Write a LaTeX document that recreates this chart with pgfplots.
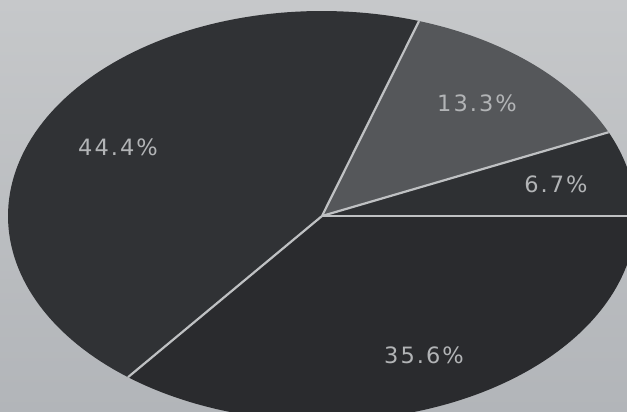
\documentclass[border=0pt]{standalone}
\usepackage{pgfplots}
\pgfplotsset{compat=1.18}
\usepackage{fontspec}
\setmainfont{DejaVu Sans}
\newfontfamily\lblfont[LetterSpace=9]{DejaVu Sans}
\definecolor{bgtop}{HTML}{C6C8CA}
\definecolor{bgbot}{HTML}{B2B5B9}
\definecolor{darkA}{HTML}{2E3033}
\definecolor{darkB}{HTML}{55575A}
\definecolor{darkC}{HTML}{303235}
\definecolor{darkD}{HTML}{2A2B2E}
\definecolor{sep}{HTML}{BFC1C3}
\definecolor{lbl}{HTML}{B2B4B6}
% shares (percent), counter-clockwise from 0 degrees
\def\pA{6.7}\def\pB{13.3}\def\pC{44.4}\def\pD{35.6}
\def\cx{322}\def\cy{196}\def\rx{314}\def\ry{205}
\begin{document}
\begin{tikzpicture}
\pgfmathsetmacro{\aA}{\pA*3.6}
\pgfmathsetmacro{\aB}{\aA+\pB*3.6}
\pgfmathsetmacro{\aC}{\aB+\pC*3.6}
\pgfmathsetmacro{\aD}{\aC+\pD*3.6}
\begin{axis}[
  scale only axis, width=627pt, height=412pt,
  xmin=0, xmax=627, ymin=0, ymax=412,
  hide axis, clip=true,
  axis background/.style={top color=bgtop, bottom color=bgbot},
]
\addplot[fill=darkA, draw=none, domain=0:\aA, samples=40, variable=\t]
  ({\cx+\rx*cos(t)}, {\cy+\ry*sin(t)}) -- (axis cs:\cx,\cy) -- cycle;
\addplot[fill=darkB, draw=none, domain=\aA:\aB, samples=40, variable=\t]
  ({\cx+\rx*cos(t)}, {\cy+\ry*sin(t)}) -- (axis cs:\cx,\cy) -- cycle;
\addplot[fill=darkC, draw=none, domain=\aB:\aC, samples=100, variable=\t]
  ({\cx+\rx*cos(t)}, {\cy+\ry*sin(t)}) -- (axis cs:\cx,\cy) -- cycle;
\addplot[fill=darkD, draw=none, domain=\aC:\aD, samples=100, variable=\t]
  ({\cx+\rx*cos(t)}, {\cy+\ry*sin(t)}) -- (axis cs:\cx,\cy) -- cycle;
% separators
\foreach \ang in {0,\aA,\aB,\aC}{
  \edef\tmp{\noexpand\addplot[draw=sep, line width=2.2pt, domain=0:1, samples=2]
    ({\cx+x*\rx*cos(\ang)}, {\cy+x*\ry*sin(\ang)});}
  \tmp
}
\tikzset{lbl/.style={text=lbl, font=\lblfont\fontsize{22.5}{26}\selectfont}}
\node[lbl] at (axis cs:118,265) {44.4\%};
\node[lbl] at (axis cs:477,309) {13.3\%};
\node[lbl] at (axis cs:556,228) {6.7\%};
\node[lbl] at (axis cs:424,57) {35.6\%};
\end{axis}
\pgfresetboundingbox
\useasboundingbox (current axis.south west) rectangle (current axis.north east);
\end{tikzpicture}
\end{document}
